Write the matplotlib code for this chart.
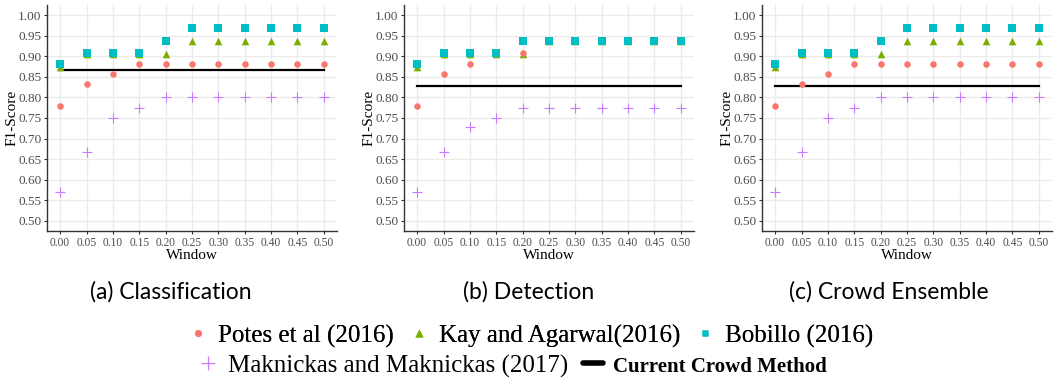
"""
F1-score vs window size for three evaluation settings
"""

import matplotlib.pyplot as plt
from matplotlib.lines import Line2D

# window sizes on the x axis
windows = [0.00, 0.05, 0.10, 0.15, 0.20, 0.25, 0.30, 0.35, 0.40, 0.45, 0.50]
x_ticks = ['0.00', '0.05', '0.10', '0.15', '0.20', '0.25', '0.30', '0.35', '0.40', '0.45', '0.50']
y_ticks = [0.50, 0.55, 0.60, 0.65, 0.70, 0.75, 0.80, 0.85, 0.90, 0.95, 1.00]

# (a) Classification
cls_potes = [0.778, 0.833, 0.857, 0.882, 0.882, 0.882, 0.882, 0.882, 0.882, 0.882, 0.882]
cls_kay = [0.875, 0.905, 0.905, 0.905, 0.905, 0.938, 0.938, 0.938, 0.938, 0.938, 0.938]
cls_bobillo = [0.882, 0.909, 0.909, 0.909, 0.938, 0.968, 0.968, 0.968, 0.968, 0.968, 0.968]
cls_mak = [0.571, 0.667, 0.750, 0.774, 0.800, 0.800, 0.800, 0.800, 0.800, 0.800, 0.800]
cls_crowd = 0.867

# (b) Detection
det_potes = [0.778, 0.857, 0.882, 0.909, 0.909, 0.938, 0.938, 0.938, 0.938, 0.938, 0.938]
det_kay = [0.875, 0.905, 0.905, 0.905, 0.905, 0.938, 0.938, 0.938, 0.938, 0.938, 0.938]
det_bobillo = [0.882, 0.909, 0.909, 0.909, 0.938, 0.938, 0.938, 0.938, 0.938, 0.938, 0.938]
det_mak = [0.571, 0.667, 0.727, 0.750, 0.774, 0.774, 0.774, 0.774, 0.774, 0.774, 0.774]
det_crowd = 0.828

# (c) Crowd Ensemble
ens_potes = [0.778, 0.833, 0.857, 0.882, 0.882, 0.882, 0.882, 0.882, 0.882, 0.882, 0.882]
ens_kay = [0.875, 0.905, 0.905, 0.905, 0.905, 0.938, 0.938, 0.938, 0.938, 0.938, 0.938]
ens_bobillo = [0.882, 0.909, 0.909, 0.909, 0.938, 0.968, 0.968, 0.968, 0.968, 0.968, 0.968]
ens_mak = [0.571, 0.667, 0.750, 0.774, 0.800, 0.800, 0.800, 0.800, 0.800, 0.800, 0.800]
ens_crowd = 0.828

captions = ['(a) Classification', '(b) Detection', '(c) Crowd Ensemble']
labels = ['Potes et al (2016)', 'Kay and Agarwal(2016)', 'Bobillo (2016)',
          'Maknickas and Maknickas (2017)', 'Current Crowd Method']

RED, GREEN, CYAN, PURPLE = '#F8766D', '#7CAE00', '#00BFC4', '#C77CFF'
W, H = 1058, 381
SERIF = 'Liberation Serif'

fig = plt.figure(figsize=(W / 100, H / 100), dpi=100)


def px_axes(left, top, right, bottom):
    return fig.add_axes([left / W, 1 - bottom / H, (right - left) / W, (bottom - top) / H])


panels = [
    (47, 5, 337, 231, cls_potes, cls_kay, cls_bobillo, cls_mak, cls_crowd),
    (404, 5, 694, 231, det_potes, det_kay, det_bobillo, det_mak, det_crowd),
    (762, 5, 1052, 231, ens_potes, ens_kay, ens_bobillo, ens_mak, ens_crowd),
]

for l, t, r, b, potes, kay, bob, mak, crowd in panels:
    ax = px_axes(l, t, r, b)
    ax.set_xlim(-0.025, 0.525)
    ax.set_ylim(0.475, 1.025)
    ax.set_xticks(windows)
    ax.set_xticklabels(x_ticks, fontsize=8.3, family=SERIF, color='#4D4D4D')
    ax.set_yticks(y_ticks)
    ax.set_yticklabels(['%.2f' % v for v in y_ticks], fontsize=9.5, family=SERIF, color='#4D4D4D')
    ax.grid(True, color='#EBEBEB', linewidth=1)
    ax.set_axisbelow(True)
    for s in ['top', 'right']:
        ax.spines[s].set_visible(False)
    for s in ['left', 'bottom']:
        ax.spines[s].set_color('#333333')
        ax.spines[s].set_linewidth(1)
    ax.tick_params(length=2.5, width=0.8, color='#333333', pad=1.5)

    ax.plot([windows[0], windows[-1]], [crowd, crowd], color='black', lw=1.6, zorder=2)
    ax.scatter(windows, kay, marker='^', s=30, color=GREEN, linewidths=0, zorder=3)
    ax.scatter(windows, potes, marker='o', s=22, color=RED, linewidths=0, zorder=3)
    ax.scatter(windows, bob, marker='s', s=26, color=CYAN, linewidths=0, zorder=3)
    ax.scatter(windows, mak, marker='+', s=60, color=PURPLE, linewidths=0.8, zorder=3)

    ax.set_xlabel('Window', fontsize=11, family=SERIF, labelpad=0)
    ax.set_ylabel('F1-Score', fontsize=11, family=SERIF, labelpad=0)

cap_x = [171, 529, 889]
for cx, cap in zip(cap_x, captions):
    fig.text(cx / W, 1 - 292 / H, cap, fontsize=16.5, family='Lato', ha='center', va='center')

# legend, two rows
h_potes = Line2D([], [], ls='', marker='o', ms=5, color=RED, mec='none')
h_kay = Line2D([], [], ls='', marker='^', ms=6, color=GREEN, mec='none')
h_bob = Line2D([], [], ls='', marker='s', ms=5, color=CYAN, mec='none')
h_mak = Line2D([], [], ls='', marker='+', ms=10, color=PURPLE, mew=0.9)
h_crowd = Line2D([], [], color='black', lw=4, solid_capstyle='round')

leg1 = fig.legend([h_potes, h_kay, h_bob], labels[:3], ncol=3, loc='center',
                  bbox_to_anchor=(531 / W, 1 - 336 / H), frameon=False,
                  prop={'family': SERIF, 'size': 18}, handlelength=0.8,
                  handletextpad=0.4, columnspacing=0.6, borderpad=0)
leg2 = fig.legend([h_mak, h_crowd], labels[3:], ncol=2, loc='center',
                  bbox_to_anchor=(512 / W, 1 - 366 / H), frameon=False,
                  prop={'family': SERIF, 'size': 18}, handlelength=0.8,
                  handletextpad=0.4, columnspacing=0.6, borderpad=0)
leg2.get_texts()[1].set_fontweight('bold')
leg2.get_texts()[1].set_fontsize(15)
fig.add_artist(leg1)

fig.savefig('out.png', dpi=100)
